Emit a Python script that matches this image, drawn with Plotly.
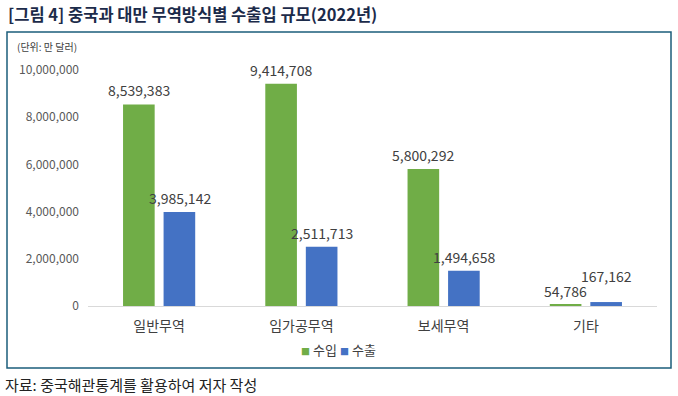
import plotly.graph_objects as go

categories = ["일반무역", "임가공무역", "보세무역", "기타"]
imports_ = [8539383, 9414708, 5800292, 54786]
exports_ = [3985142, 2511713, 1494658, 167162]
series_names = ["수입", "수출"]
y_ticks = [0, 2000000, 4000000, 6000000, 8000000, 10000000]

W, H = 678, 396
L, R, T, B = 88, 657, 70, 306
FONT = "Noto Sans CJK KR"
GREEN = "#70ad47"
BLUE = "#4472c4"
colors = [GREEN, BLUE]


def px(x):
    return (x - L) / (R - L)


def py(y):
    return (B - y) / (B - T)


fig = go.Figure()
for name, vals, col in zip(series_names, [imports_, exports_], colors):
    fig.add_trace(go.Bar(x=categories, y=vals, name=name, showlegend=False,
                         marker=dict(color=col, line=dict(width=0))))

annotations = []
offset = 20.5
extra = {(1, 3): 12}
for si, vals in enumerate([imports_, exports_]):
    for ci, (c, v) in enumerate(zip(categories, vals)):
        annotations.append(dict(
            x=c, y=v, xref="x", yref="y", text=f"{v:,}", showarrow=False,
            xshift=(-offset if si == 0 else offset), yshift=14 + extra.get((si, ci), 0),
            font=dict(family=FONT, size=14, color="#404040"),
        ))

# legend entries
for name, col, lx in zip(series_names, colors, [299, 338]):
    annotations.append(dict(
        x=px(lx), y=py(349), xref="paper", yref="paper", xanchor="left", yanchor="middle",
        text=f"<span style='color:{col};font-size:9px'>■</span> {name}", showarrow=False,
        font=dict(family=FONT, size=13, color="#404040")))

annotations += [
    dict(x=px(6), y=py(14), xref="paper", yref="paper", xanchor="left", yanchor="middle",
         text="<b>[그림 4] 중국과 대만 무역방식별 수출입 규모(2022년)</b>", showarrow=False,
         font=dict(family=FONT, size=16.5, color="#1c2b4a")),
    dict(x=px(15), y=py(46), xref="paper", yref="paper", xanchor="left", yanchor="middle",
         text="(단위: 만 달러)", showarrow=False,
         font=dict(family=FONT, size=10, color="#404040")),
    dict(x=px(3), y=py(384), xref="paper", yref="paper", xanchor="left", yanchor="middle",
         text="자료: 중국해관통계를 활용하여 저자 작성", showarrow=False,
         font=dict(family=FONT, size=15, color="#222222")),
]

fig.update_layout(
    width=W, height=H,
    margin=dict(l=L, r=W - R, t=T, b=H - B, pad=0),
    paper_bgcolor="white", plot_bgcolor="white",
    barmode="group", bargap=0.43, bargroupgap=0.22,
    font=dict(family=FONT, size=12, color="#404040"),
    showlegend=False,
    annotations=annotations,
    shapes=[dict(type="rect", xref="paper", yref="paper",
                 x0=px(7), x1=px(671), y0=py(32), y1=py(368),
                 line=dict(color="#1b5e7b", width=1.5), fillcolor="rgba(0,0,0,0)", layer="below")],
)
fig.update_xaxes(showgrid=False, showline=True, linecolor="#d9d9d9", linewidth=1,
                 ticks="", tickfont=dict(family=FONT, size=14, color="#404040"),
                 ticklabelstandoff=7)
fig.update_yaxes(range=[0, 10000000], tickvals=y_ticks, tickformat=",", showgrid=False,
                 zeroline=False, showline=False, ticks="",
                 tickfont=dict(family=FONT, size=12, color="#595959"), ticklabelstandoff=8)

fig.write_html("out.html", config={"displayModeBar": False},
               post_script="document.body.style.margin='0';document.body.style.overflow='hidden';")
